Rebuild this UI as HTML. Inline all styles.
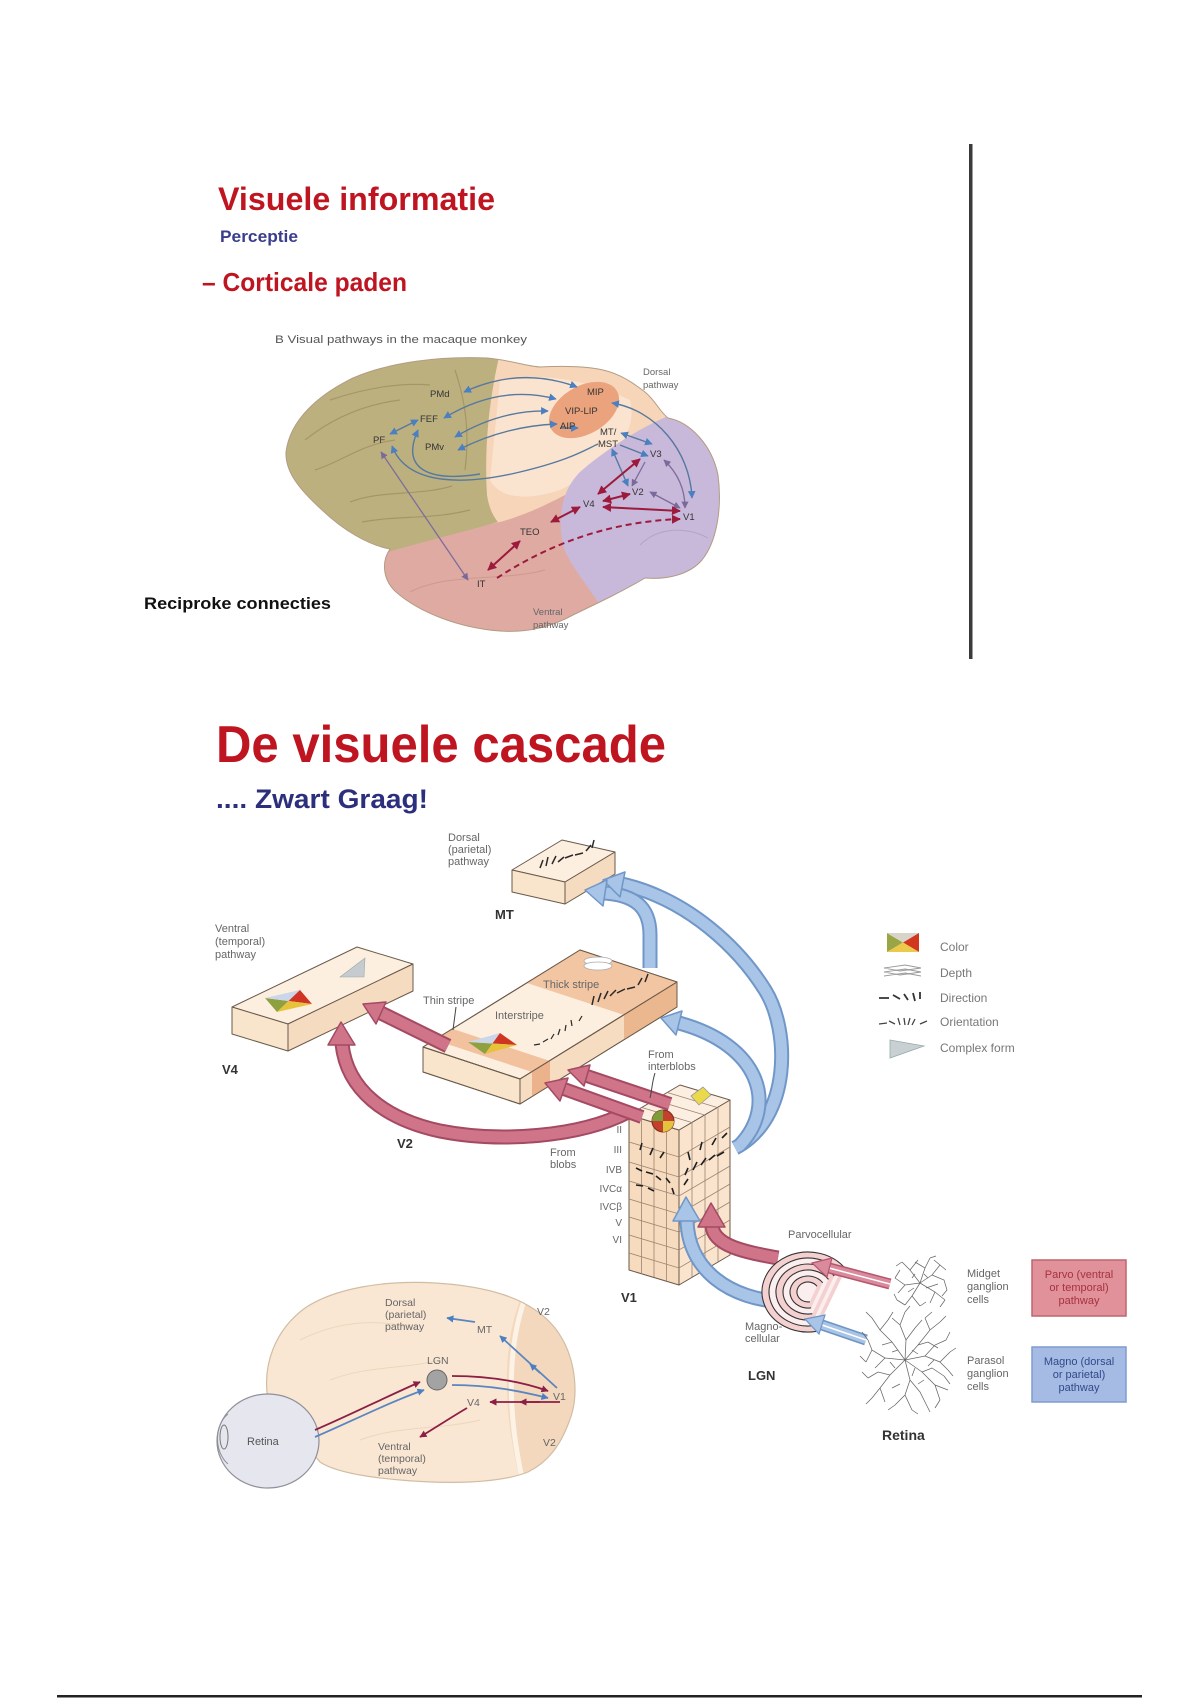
<!DOCTYPE html>
<html><head><meta charset="utf-8"><style>
html,body{margin:0;padding:0;background:#fff;}
svg{display:block;}
text{font-family:"Liberation Sans",Arial,sans-serif;}
</style></head><body>
<svg width="1200" height="1700" viewBox="0 0 1200 1700" xmlns="http://www.w3.org/2000/svg">
<defs>
<marker id="mb" viewBox="0 0 10 10" refX="9" refY="5" markerWidth="5.5" markerHeight="5.5" orient="auto-start-reverse"><path d="M0 0 L10 5 L0 10 z" fill="#4a7fc2"/></marker>
<marker id="mr" viewBox="0 0 10 10" refX="9" refY="5" markerWidth="4.5" markerHeight="4.5" orient="auto-start-reverse"><path d="M0 0 L10 5 L0 10 z" fill="#9c1a3c"/></marker>
<marker id="mp" viewBox="0 0 10 10" refX="9" refY="5" markerWidth="5.5" markerHeight="5.5" orient="auto-start-reverse"><path d="M0 0 L10 5 L0 10 z" fill="#7a6a9c"/></marker>
<marker id="mb2" viewBox="0 0 10 10" refX="9" refY="5" markerWidth="4" markerHeight="4" orient="auto-start-reverse"><path d="M0 0 L10 5 L0 10 z" fill="#4a7fc2"/></marker>
<marker id="mr2" viewBox="0 0 10 10" refX="9" refY="5" markerWidth="4" markerHeight="4" orient="auto-start-reverse"><path d="M0 0 L10 5 L0 10 z" fill="#8c1f45"/></marker>
<clipPath id="bc"><path d="M286 452 C290 420,318 395,353 378 C390 362,440 356,487 358 C510 360,525 366,540 367 C560 366,585 366,603 370 C620 374,632 382,645 392 C655 400,660 412,668 418 C690 422,712 445,718 475 C722 505,718 540,702 560 C690 574,668 580,645 578 C625 590,600 602,575 614 C553 626,530 633,500 631 C460 628,420 613,396 592 C383 580,381 562,390 549 C368 545,343 530,322 510 C300 490,285 472,286 452 Z"/></clipPath>
<clipPath id="sbc"><path d="M268 1400 C262 1365,275 1330,305 1308 C335 1288,385 1280,435 1283 C485 1286,530 1297,555 1328 C576 1355,580 1395,569 1422 C560 1446,548 1462,528 1472 C498 1484,445 1484,400 1480 C365 1477,335 1472,320 1462 Z"/></clipPath>
</defs>
<rect width="1200" height="1700" fill="#ffffff"/>

<!-- ============ TOP SLIDE ============ -->
<text x="218" y="210" font-size="32" font-weight="bold" fill="#bf1520" textLength="277" lengthAdjust="spacingAndGlyphs">Visuele informatie</text>
<text x="220" y="242" font-size="17" font-weight="bold" fill="#3a3d8c" textLength="78" lengthAdjust="spacingAndGlyphs">Perceptie</text>
<text x="202" y="291" font-size="26" font-weight="bold" fill="#bf1520" textLength="205" lengthAdjust="spacingAndGlyphs">– Corticale paden</text>
<text x="275" y="343" font-size="11" fill="#555" textLength="252" lengthAdjust="spacingAndGlyphs">B  Visual pathways in the macaque monkey</text>
<text x="144" y="609" font-size="17" font-weight="bold" fill="#111" textLength="187" lengthAdjust="spacingAndGlyphs">Reciproke connecties</text>

<!-- brain top -->
<g clip-path="url(#bc)">
  <rect x="270" y="340" width="460" height="300" fill="#f6d5b8"/>
  <path d="M500 380 C540 372,590 380,630 400 C640 440,600 470,560 490 C530 500,500 500,490 480 Z" fill="#fbe4cf"/>
  <path d="M370 548 C420 538,470 528,500 522 C530 514,555 500,575 490 L640 640 L360 650 Z" fill="#dfaaa2"/>
  <path d="M668 416 C640 428,605 450,580 472 C560 492,558 520,563 545 C568 562,582 578,600 605 L740 605 L740 400 Z" fill="#c8b8da"/>
  <path d="M260 330 L506 330 C494 372,483 430,487 495 C489 508,493 516,498 522 C470 530,430 540,388 552 L260 570 Z" fill="#bdb07f"/>
  <g fill="none" stroke="#a59667" stroke-width="1.2">
    <path d="M305 440 C330 420,360 405,400 400"/>
    <path d="M315 470 C345 460,360 445,395 440"/>
    <path d="M350 502 C380 490,420 496,452 486"/>
    <path d="M455 370 C465 400,470 430,465 470"/>
    <path d="M362 522 C400 515,430 520,470 510"/>
    <path d="M330 400 C360 390,395 382,430 385"/>
  </g>
  <path d="M410 592 C450 572,500 582,545 570" fill="none" stroke="#cf9990" stroke-width="1"/>
  <path d="M640 545 C660 525,690 528,708 538" fill="none" stroke="#b3a3c8" stroke-width="1"/>
</g>
<path d="M286 452 C290 420,318 395,353 378 C390 362,440 356,487 358 C510 360,525 366,540 367 C560 366,585 366,603 370 C620 374,632 382,645 392 C655 400,660 412,668 418 C690 422,712 445,718 475 C722 505,718 540,702 560 C690 574,668 580,645 578 C625 590,600 602,575 614 C553 626,530 633,500 631 C460 628,420 613,396 592 C383 580,381 562,390 549 C368 545,343 530,322 510 C300 490,285 472,286 452 Z" fill="none" stroke="#b39c84" stroke-width="1"/>
<ellipse cx="584" cy="410" rx="38" ry="24" transform="rotate(-30 584 410)" fill="#eaa37d"/>

<!-- top brain arrows -->
<g fill="none" stroke="#56799f" stroke-width="1.4">
  <path d="M464 392 Q520 366 577 387" marker-start="url(#mb)" marker-end="url(#mb)"/>
  <path d="M444 418 Q500 384 556 399" marker-start="url(#mb)" marker-end="url(#mb)"/>
  <path d="M455 437 Q500 410 548 411" marker-start="url(#mb)" marker-end="url(#mb)"/>
  <path d="M458 450 Q505 426 557 424" marker-start="url(#mb)" marker-end="url(#mb)"/>
  <path d="M390 434 L418 420" marker-start="url(#mb)" marker-end="url(#mb)"/>
  <path d="M392 446 C408 488,470 484,520 472 S585 450,598 444" marker-start="url(#mb)"/>
  <path d="M418 430 C400 470,430 482,480 474" marker-start="url(#mb)"/>
  <path d="M612 403 C655 410,690 450,692 498" marker-start="url(#mb)" marker-end="url(#mb)"/>
  <path d="M621 433 L652 444" marker-start="url(#mb)" marker-end="url(#mb)"/>
  <path d="M612 449 L628 486" marker-start="url(#mb)" marker-end="url(#mb)"/>
  <path d="M620 445 L648 456" marker-end="url(#mb)"/>
  <path d="M560 428 L578 428" marker-end="url(#mb)"/>
</g>
<g fill="none" stroke="#7d6c9c" stroke-width="1.3">
  <path d="M381 452 L468 580" marker-start="url(#mp)" marker-end="url(#mp)"/>
  <path d="M664 460 Q685 480 685 508" marker-start="url(#mp)" marker-end="url(#mp)"/>
  <path d="M650 492 L680 508" marker-start="url(#mp)" marker-end="url(#mp)"/>
  <path d="M645 462 L632 486" marker-end="url(#mp)"/>
</g>
<g fill="none" stroke="#9c1b3d" stroke-width="2">
  <path d="M640 459 L598 494" marker-start="url(#mr)" marker-end="url(#mr)"/>
  <path d="M630 494 L603 501" marker-start="url(#mr)" marker-end="url(#mr)"/>
  <path d="M603 507 L680 511" marker-start="url(#mr)" marker-end="url(#mr)"/>
  <path d="M580 507 L551 522" marker-start="url(#mr)" marker-end="url(#mr)"/>
  <path d="M520 541 L488 570" marker-start="url(#mr)" marker-end="url(#mr)"/>
  <path d="M497 578 C540 550,600 522,680 519" stroke-dasharray="6 4" marker-end="url(#mr)"/>
</g>
<g font-size="9.5" fill="#333">
  <text x="430" y="397">PMd</text>
  <text x="420" y="422">FEF</text>
  <text x="373" y="443">PF</text>
  <text x="425" y="450">PMv</text>
  <text x="587" y="395">MIP</text>
  <text x="565" y="414">VIP-LIP</text>
  <text x="560" y="429">AIP</text>
  <text x="600" y="435">MT/</text>
  <text x="598" y="447">MST</text>
  <text x="650" y="457">V3</text>
  <text x="632" y="495">V2</text>
  <text x="583" y="507">V4</text>
  <text x="683" y="520">V1</text>
  <text x="520" y="535">TEO</text>
  <text x="477" y="587">IT</text>
</g>
<g font-size="9.5" fill="#666">
  <text x="643" y="375">Dorsal</text>
  <text x="643" y="388">pathway</text>
  <text x="533" y="615">Ventral</text>
  <text x="533" y="628">pathway</text>
</g>

<rect x="969" y="144" width="3.5" height="515" fill="#3a3a3a"/>

<!-- ============ BOTTOM SLIDE ============ -->
<text x="216" y="762" font-size="52" font-weight="bold" fill="#bf1520" textLength="450" lengthAdjust="spacingAndGlyphs">De visuele cascade</text>
<text x="216" y="808" font-size="27" font-weight="bold" fill="#2c2f7c" textLength="212" lengthAdjust="spacingAndGlyphs">.... Zwart Graag!</text>

<!-- MT box -->
<g stroke="#6b5a4a" stroke-width="1" stroke-linejoin="round">
  <polygon points="512,870 562,840 615,852 565,882" fill="#fcefdf"/>
  <polygon points="512,870 565,882 565,904 512,892" fill="#f9e4cc"/>
  <polygon points="565,882 615,852 615,874 565,904" fill="#f5dbc0"/>
</g>
<g stroke="#2a2a2a" stroke-width="1.5" fill="none">
  <path d="M540 868 l3 -8 M546 866 l2 -9 M552 864 l4 -8 M558 862 l6 -5 M565 858 l8 -3 M575 855 l8 -2 M586 851 l5 -6 M592 848 l2 -8"/>
</g>

<!-- V4 box -->
<g stroke="#6b5a4a" stroke-width="1" stroke-linejoin="round">
  <polygon points="232,1007 357,947 413,964 288,1024" fill="#fcefdf"/>
  <polygon points="232,1007 288,1024 288,1051 232,1034" fill="#f9e4cc"/>
  <polygon points="288,1024 413,964 413,991 288,1051" fill="#f5dbc0"/>
</g>
<polygon points="265,998 288.5,1001 277,1012" fill="#8fa040"/>
<polygon points="265,998 300,990 288.5,1001" fill="#cbd6ea"/>
<polygon points="300,990 312,1004 288.5,1001" fill="#cf3522"/>
<polygon points="277,1012 312,1004 288.5,1001" fill="#e7c23b"/>
<polygon points="340,977 365,958 364,977" fill="#c5cbcf" stroke="#9aa" stroke-width="0.6"/>

<!-- V2 box -->
<g stroke="#6b5a4a" stroke-width="1" stroke-linejoin="round">
  <polygon points="423,1047 580,950 677,982 520,1079" fill="#fcefdf"/>
  <polygon points="423,1047 520,1079 520,1104 423,1072" fill="#f9e4cc"/>
  <polygon points="520,1079 677,982 677,1007 520,1104" fill="#f6dcc1"/>
</g>
<polygon points="435,1040 453,1029 550,1061 532,1072" fill="#f2c19d"/>
<polygon points="532,1072 550,1061 550,1086 532,1097" fill="#ebb28b"/>
<polygon points="527,983 580,950 677,982 624,1015" fill="#f2c6a3"/>
<polygon points="624,1015 677,982 677,1007 624,1040" fill="#ebb78f"/>
<g stroke="#6b5a4a" stroke-width="1" fill="none" stroke-linejoin="round">
  <polygon points="423,1047 580,950 677,982 520,1079"/>
  <polygon points="520,1079 677,982 677,1007 520,1104 423,1072 423,1047"/>
</g>
<polygon points="468,1042 492.5,1043.5 485,1054" fill="#8fa040"/>
<polygon points="468,1042 500,1033 492.5,1043.5" fill="#cbd6ea"/>
<polygon points="500,1033 517,1045 492.5,1043.5" fill="#cf3522"/>
<polygon points="485,1054 517,1045 492.5,1043.5" fill="#e7c23b"/>
<ellipse cx="598" cy="961" rx="14" ry="4" fill="#fff" stroke="#aaa" stroke-width="0.8"/>
<ellipse cx="598" cy="966" rx="14" ry="4" fill="#fff" stroke="#aaa" stroke-width="0.8"/>
<g stroke="#2a2a2a" stroke-width="1.5" fill="none">
  <path d="M592 1005 l2 -9 M598 1002 l3 -9 M604 999 l4 -8 M610 996 l6 -6 M617 993 l8 -4 M627 989 l8 -2 M638 985 l4 -7 M645 982 l3 -8"/>
  <path d="M534 1045 l6 -1 M543 1042 l5 -3 M551 1039 l3 -5 M558 1035 l2 -6 M565 1031 l1 -6 M572 1026 l-1 -6 M579 1021 l3 -5" stroke-width="1.2"/>
</g>
<path d="M456 1007 L453 1030" stroke="#444" stroke-width="1" fill="none"/>

<!-- V1 column -->
<g stroke="#6b5a4a" stroke-width="1" stroke-linejoin="round">
  <polygon points="629,1115 679,1130 679,1285 629,1270" fill="#f7dbbf"/>
  <polygon points="679,1130 730,1100 730,1255 679,1285" fill="#fae4cd"/>
  <polygon points="629,1115 680,1085 730,1100 679,1130" fill="#fcefe2"/>
</g>
<g stroke="#9c8470" stroke-width="0.8" fill="none">
  <path d="M629 1142 L679 1157 L730 1127 M629 1162 L679 1177 L730 1147 M629 1181 L679 1196 L730 1166 M629 1199 L679 1214 L730 1184 M629 1217 L679 1232 L730 1202 M629 1235 L679 1250 L730 1220 M629 1253 L679 1268 L730 1238"/>
  <path d="M641.5 1119 V1274 M654 1122.5 V1277 M666.5 1126 V1281 M692 1122.3 V1277 M705 1114.7 V1270 M718 1107 V1262"/>
  <path d="M641.75 1107.5 L691.75 1122.5 M654.5 1100 L704.5 1115 M667.25 1092.5 L717.25 1107.5"/>
</g>
<g stroke="#1f1f1f" stroke-width="1.6" fill="none">
  <path d="M636 1168 l6 3 M646 1172 l7 2 M656 1176 l5 4 M666 1178 l4 5 M685 1175 l3 -7 M693 1170 l4 -8 M701 1165 l5 -7 M709 1160 l6 -5 M717 1156 l7 -4 M690 1160 l-2 -8 M700 1150 l2 -8 M712 1145 l4 -7 M722 1138 l5 -5 M640 1150 l2 -7 M650 1155 l3 -7 M660 1158 l4 -6 M636 1185 l7 1 M648 1188 l6 3 M672 1188 l2 6 M684 1185 l4 -6"/>
</g>

<!-- pink arrows -->
<g fill="none" stroke-linecap="butt">
  <path d="M448 1046 L381 1013" stroke="#a44a62" stroke-width="15"/>
  <path d="M448 1046 L381 1013" stroke="#cf7489" stroke-width="11"/>
  <path d="M628 1112 C580 1137,500 1143,440 1131 C385 1119,347 1090,342 1044" stroke="#a44a62" stroke-width="15"/>
  <path d="M628 1112 C580 1137,500 1143,440 1131 C385 1119,347 1090,342 1044" stroke="#cf7489" stroke-width="11"/>
  <path d="M642 1117 L564 1089" stroke="#a44a62" stroke-width="14"/>
  <path d="M642 1117 L564 1089" stroke="#cf7489" stroke-width="10"/>
  <path d="M670 1104 L587 1076" stroke="#a44a62" stroke-width="14"/>
  <path d="M670 1104 L587 1076" stroke="#cf7489" stroke-width="10"/>
</g>
<g fill="#cf7489" stroke="#a44a62" stroke-width="1.5" stroke-linejoin="round">
  <polygon points="363,1004 386,1002 376,1024"/>
  <polygon points="341,1022 328,1045 355,1045"/>
  <polygon points="545,1083 568,1078 560,1101"/>
  <polygon points="568,1070 590,1065 584,1086"/>
</g>
<!-- blob & yellow -->
<circle cx="663" cy="1121" r="11" fill="#c2402c" stroke="#7a2b20" stroke-width="1"/>
<path d="M663 1121 L652 1121 A11 11 0 0 1 663 1110 Z" fill="#7f9c3a"/>
<path d="M663 1121 L674 1121 A11 11 0 0 1 663 1132 Z" fill="#e3c23c"/>
<polygon points="691,1096 703,1087 711,1095 699,1105" fill="#ead94a" stroke="#999" stroke-width="0.8"/>

<!-- blue arrows -->
<g fill="none">
  <path d="M735 1148 C792 1118,790 1030,765 990 C740 950,690 900,622 884" stroke="#7097c8" stroke-width="15"/>
  <path d="M735 1148 C792 1118,790 1030,765 990 C740 950,690 900,622 884" stroke="#a8c4e6" stroke-width="11"/>
  <path d="M650 968 L650 935 C650 905,632 895,605 893" stroke="#7097c8" stroke-width="15"/>
  <path d="M650 968 L650 935 C650 905,632 895,605 893" stroke="#a8c4e6" stroke-width="11"/>
  <path d="M740 1145 C778 1105,760 1045,679 1023" stroke="#7097c8" stroke-width="15"/>
  <path d="M740 1145 C778 1105,760 1045,679 1023" stroke="#a8c4e6" stroke-width="11"/>
  <path d="M785 1302 C730 1300,688 1270,687 1220" stroke="#7097c8" stroke-width="15"/>
  <path d="M785 1302 C730 1300,688 1270,687 1220" stroke="#a8c4e6" stroke-width="11"/>
  <path d="M778 1258 C745 1252,714 1246,712 1226" stroke="#a44a62" stroke-width="15"/>
  <path d="M778 1258 C745 1252,714 1246,712 1226" stroke="#cf7489" stroke-width="11"/>
</g>
<g fill="#a8c4e6" stroke="#7097c8" stroke-width="1.5" stroke-linejoin="round">
  <polygon points="603,880 625,872 620,897"/>
  <polygon points="585,890 607,880 603,906"/>
  <polygon points="661,1018 682,1011 676,1035"/>
  <polygon points="686,1197 673,1221 700,1221"/>
</g>
<polygon points="711,1203 698,1227 725,1227" fill="#cf7489" stroke="#a44a62" stroke-width="1.5" stroke-linejoin="round"/>

<!-- LGN -->
<g stroke="#333" stroke-width="1.1">
  <path d="M845.7 1269.1 A46 40 0 1 0 816 1331.4" fill="#f4d0d0"/>
  <path d="M840 1272.5 A39 34 0 1 0 814.8 1325.5" fill="#fbeeee"/>
  <path d="M834.2 1276 A32 28 0 1 0 813.6 1319.6" fill="#f4d0d0"/>
  <path d="M828.5 1279.4 A25 22 0 1 0 812.3 1313.7" fill="#fbeeee"/>
  <path d="M822.7 1282.8 A18 16 0 1 0 811.1 1307.8" fill="#f4d0d0"/>
  <path d="M817 1286.3 A11 10 0 1 0 809.9 1301.8" fill="#fbeeee"/>
</g>
<!-- retina -> LGN -->
<path d="M890 1284 L829 1268" stroke="#b5566d" stroke-width="11" fill="none"/>
<path d="M890 1284 L829 1268" stroke="#d98a9c" stroke-width="8" fill="none"/>
<path d="M890 1284 L829 1268" stroke="#fff" stroke-width="1.5" fill="none"/>
<polygon points="812,1263 832,1258 827,1277" fill="#d98a9c" stroke="#b5566d" stroke-width="1.2"/>
<path d="M866 1340 L822 1325" stroke="#6f94c6" stroke-width="11" fill="none"/>
<path d="M866 1340 L822 1325" stroke="#a8c4e6" stroke-width="8" fill="none"/>
<path d="M866 1340 L822 1325" stroke="#fff" stroke-width="1.5" fill="none"/>
<polygon points="805,1319 825,1315 819,1334" fill="#a8c4e6" stroke="#6f94c6" stroke-width="1.2"/>

<!-- retina cells -->
<g stroke="#666" stroke-width="0.75" fill="none">
  <path d="M905 1360 L925 1356 L940 1362 L950 1352 M925 1356 L935 1345 L946 1340 M940 1362 L948 1370"/>
  <path d="M905 1360 L922 1372 L935 1385 L948 1390 M922 1372 L932 1368 L944 1376 M935 1385 L940 1400"/>
  <path d="M905 1360 L910 1380 L905 1395 L912 1410 M910 1380 L920 1392 L926 1404 M905 1395 L895 1405"/>
  <path d="M905 1360 L890 1375 L880 1388 L872 1398 M890 1375 L878 1372 L868 1378 M880 1388 L885 1402"/>
  <path d="M905 1360 L885 1358 L872 1350 L866 1362 M885 1358 L875 1368 M872 1350 L868 1340"/>
  <path d="M905 1360 L892 1342 L880 1330 L872 1318 M892 1342 L882 1345 M880 1330 L888 1320"/>
  <path d="M905 1360 L906 1340 L900 1325 L905 1312 M906 1340 L915 1328 M900 1325 L892 1318"/>
  <path d="M905 1360 L918 1345 L930 1330 L940 1322 M918 1345 L928 1342 L938 1348 M930 1330 L925 1318"/>
  <path d="M946 1340 L950 1332 M948 1370 L953 1376 M944 1376 L950 1384 M940 1400 L935 1408 M926 1404 L930 1412 M912 1410 L918 1414 M895 1405 L888 1410 M872 1398 L866 1404 M868 1378 L862 1372 M866 1362 L860 1356 M868 1340 L862 1332 M872 1318 L866 1312 M888 1320 L893 1312 M905 1312 L910 1306 M915 1328 L922 1320 M925 1318 L932 1312 M940 1322 L946 1316 M950 1352 L956 1348"/>
  <path d="M928 1366 L934 1360 M915 1368 L912 1376 M895 1368 L890 1362 M898 1350 L892 1352 M912 1350 L918 1354 M900 1384 L892 1388 M918 1384 L924 1380"/>
  <path d="M920 1283 L932 1275 L940 1265 M932 1275 L944 1280 L947 1290 M940 1265 L934 1260"/>
  <path d="M920 1283 L935 1292 L945 1300 M935 1292 L930 1303 M945 1300 L940 1307"/>
  <path d="M920 1283 L912 1296 L905 1305 M912 1296 L920 1306 M905 1305 L897 1300"/>
  <path d="M920 1283 L905 1285 L895 1278 M905 1285 L898 1293 M895 1278 L900 1270"/>
  <path d="M920 1283 L910 1270 L902 1262 M910 1270 L918 1260 M925 1268 L930 1258"/>
  <path d="M920 1283 L925 1268 L915 1262 M926 1288 L938 1284 M914 1288 L908 1292"/>
  <path d="M940 1265 L946 1270 M947 1290 L942 1296 M902 1262 L896 1266 M930 1258 L936 1256 M897 1300 L894 1294 M920 1306 L926 1302 M928 1278 L924 1274 M912 1278 L915 1274"/>
</g>

<!-- legend -->
<polygon points="887,933 887,952 903,942.5" fill="#9aa646"/>
<polygon points="887,933 919,933 903,942.5" fill="#d8d4c8"/>
<polygon points="919,933 919,952 903,942.5" fill="#d2361f"/>
<polygon points="887,952 919,952 903,942.5" fill="#ecc94a"/>
<g stroke="#999" stroke-width="0.9" fill="none">
  <path d="M884 968 L905 965 L921 968 L900 971 Z M884 972 L905 969 L921 972 L900 975 Z M884 976 L905 973 L921 976"/>
</g>
<g stroke="#333" stroke-width="1.8" fill="none">
  <path d="M879 998 L889 998 M893 995 L900 999 M904 994 L908 1000 M913 993 L915 1001 M920 992 L920 999"/>
</g>
<g stroke="#444" stroke-width="1.3" fill="none">
  <path d="M879 1024 L887 1023 M889 1021 L895 1024 M898 1018 L900 1025 M904 1018 L905 1025 M910 1018 L908 1025 M915 1019 L912 1025 M920 1024 L927 1021"/>
</g>
<polygon points="890,1040 924,1046 890,1058" fill="#c9d0d4" stroke="#9aa" stroke-width="0.8"/>
<g font-size="12" fill="#777">
  <text x="940" y="951">Color</text>
  <text x="940" y="977">Depth</text>
  <text x="940" y="1002">Direction</text>
  <text x="940" y="1026">Orientation</text>
  <text x="940" y="1052">Complex form</text>
</g>

<!-- pathway boxes -->
<rect x="1032" y="1260" width="94" height="56" fill="#e0919a" stroke="#c0646f" stroke-width="1.5"/>
<rect x="1032" y="1347" width="94" height="55" fill="#a6bbe3" stroke="#7f9bd0" stroke-width="1.5"/>
<g font-size="11" text-anchor="middle">
  <text x="1079" y="1278" fill="#a8323f">Parvo (ventral</text>
  <text x="1079" y="1291" fill="#a8323f">or temporal)</text>
  <text x="1079" y="1304" fill="#a8323f">pathway</text>
  <text x="1079" y="1365" fill="#2f4a8a">Magno (dorsal</text>
  <text x="1079" y="1378" fill="#2f4a8a">or parietal)</text>
  <text x="1079" y="1391" fill="#2f4a8a">pathway</text>
</g>

<!-- labels -->
<g font-size="11" fill="#666">
  <text x="448" y="841">Dorsal</text>
  <text x="448" y="853">(parietal)</text>
  <text x="448" y="865">pathway</text>
  <text x="215" y="932">Ventral</text>
  <text x="215" y="945">(temporal)</text>
  <text x="215" y="958">pathway</text>
  <text x="423" y="1004">Thin stripe</text>
  <text x="495" y="1019">Interstripe</text>
  <text x="543" y="988">Thick stripe</text>
  <text x="648" y="1058">From</text>
  <text x="648" y="1070">interblobs</text>
  <text x="550" y="1156">From</text>
  <text x="550" y="1168">blobs</text>
  <text x="788" y="1238">Parvocellular</text>
  <text x="745" y="1330">Magno-</text>
  <text x="745" y="1342">cellular</text>
  <text x="967" y="1277">Midget</text>
  <text x="967" y="1290">ganglion</text>
  <text x="967" y="1303">cells</text>
  <text x="967" y="1364">Parasol</text>
  <text x="967" y="1377">ganglion</text>
  <text x="967" y="1390">cells</text>
</g>
<path d="M655 1073 C652 1082,652 1090,650 1098" stroke="#444" stroke-width="1" fill="none"/>
<g font-size="10" fill="#666" text-anchor="end">
  <text x="622" y="1133">II</text>
  <text x="622" y="1153">III</text>
  <text x="622" y="1173">IVB</text>
  <text x="622" y="1192">IVCα</text>
  <text x="622" y="1210">IVCβ</text>
  <text x="622" y="1226">V</text>
  <text x="622" y="1243">VI</text>
</g>
<g font-size="13" font-weight="bold" fill="#333">
  <text x="495" y="919">MT</text>
  <text x="222" y="1074">V4</text>
  <text x="397" y="1148">V2</text>
  <text x="621" y="1302">V1</text>
  <text x="748" y="1380">LGN</text>
  <text x="882" y="1440" font-size="14">Retina</text>
</g>

<!-- small brain -->
<path d="M268 1400 C262 1365,275 1330,305 1308 C335 1288,385 1280,435 1283 C485 1286,530 1297,555 1328 C576 1355,580 1395,569 1422 C560 1446,548 1462,528 1472 C498 1484,445 1484,400 1480 C365 1477,335 1472,320 1462 Z" fill="#f9e7d3"/>
<g clip-path="url(#sbc)">
  <path d="M520 1300 C505 1340,500 1400,520 1480 L600 1480 L600 1290 Z" fill="#f3d8bd"/>
  <path d="M525 1298 C510 1340,505 1400,522 1478" stroke="#fcf2e6" stroke-width="5" fill="none"/>
  <g stroke="#ecd7bd" stroke-width="1" fill="none">
    <path d="M300 1340 C340 1320,380 1318,420 1330"/>
    <path d="M330 1380 C370 1365,400 1370,440 1360"/>
    <path d="M360 1440 C400 1425,440 1430,480 1420"/>
  </g>
</g>
<path d="M268 1400 C262 1365,275 1330,305 1308 C335 1288,385 1280,435 1283 C485 1286,530 1297,555 1328 C576 1355,580 1395,569 1422 C560 1446,548 1462,528 1472 C498 1484,445 1484,400 1480 C365 1477,335 1472,320 1462 Z" fill="none" stroke="#d2bda3" stroke-width="1.2"/>
<ellipse cx="268" cy="1441" rx="51" ry="47" fill="#e5e6ee" stroke="#8f8f9a" stroke-width="1.2"/>
<path d="M228 1414 C214 1425,214 1452,228 1464" fill="none" stroke="#8f8f9a" stroke-width="1"/>
<ellipse cx="224" cy="1437" rx="4" ry="12" fill="none" stroke="#777" stroke-width="1"/>
<text x="247" y="1445" font-size="11" fill="#555">Retina</text>
<circle cx="437" cy="1380" r="10" fill="#a3a3a3" stroke="#666" stroke-width="1"/>
<g fill="none" stroke-width="1.8">
  <path d="M315 1430 C350 1415,390 1395,420 1382" stroke="#8c1f45" marker-end="url(#mr2)"/>
  <path d="M315 1437 C350 1422,392 1401,424 1390" stroke="#5a85c0" marker-end="url(#mb2)"/>
  <path d="M452 1376 C490 1376,520 1381,548 1391" stroke="#8c1f45" marker-end="url(#mr2)"/>
  <path d="M452 1385 C490 1385,520 1391,548 1398" stroke="#5a85c0" marker-end="url(#mb2)"/>
  <path d="M557 1388 L500 1336" stroke="#5a85c0" marker-end="url(#mb2)"/>
  <path d="M540 1373 L530 1364" stroke="#5a85c0" marker-end="url(#mb2)"/>
  <path d="M475 1322 L447 1318" stroke="#5a85c0" marker-end="url(#mb2)"/>
  <path d="M560 1402 L490 1402" stroke="#8c1f45" marker-end="url(#mr2)"/>
  <path d="M540 1402 L520 1402" stroke="#8c1f45" marker-end="url(#mr2)"/>
  <path d="M467 1408 C450 1418,435 1428,420 1437" stroke="#8c1f45" marker-end="url(#mr2)"/>
</g>
<g font-size="10.5" fill="#666">
  <text x="385" y="1306">Dorsal</text>
  <text x="385" y="1318">(parietal)</text>
  <text x="385" y="1330">pathway</text>
  <text x="477" y="1333">MT</text>
  <text x="537" y="1315">V2</text>
  <text x="427" y="1364">LGN</text>
  <text x="553" y="1400">V1</text>
  <text x="467" y="1406">V4</text>
  <text x="543" y="1446">V2</text>
  <text x="378" y="1450">Ventral</text>
  <text x="378" y="1462">(temporal)</text>
  <text x="378" y="1474">pathway</text>
</g>

<rect x="57" y="1695" width="1085" height="2.5" fill="#222"/>
</svg>
</body></html>
